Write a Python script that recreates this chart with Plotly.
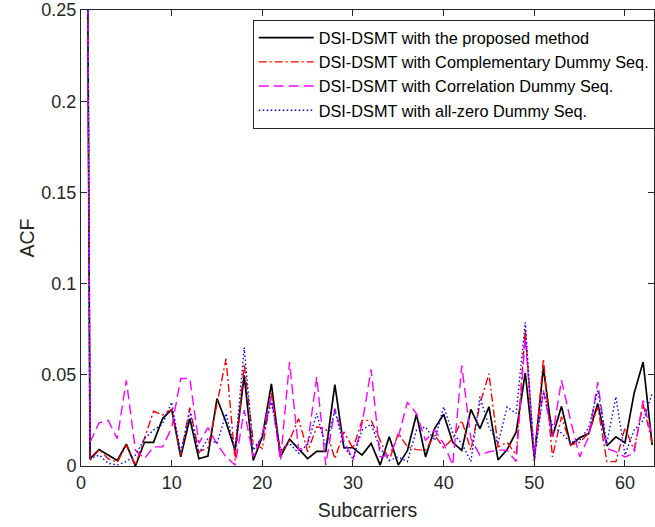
import plotly.graph_objects as go

# Subcarrier index 0..63
subcarriers = list(range(64))

acf_proposed = [
    1.0, 0.004, 0.009, 0.006, 0.003, 0.012, 0.0, 0.013, 0.013, 0.026,
    0.031, 0.005, 0.026, 0.004, 0.0055, 0.037, 0.024, 0.0087, 0.0497, 0.003,
    0.016, 0.045, 0.005, 0.0147, 0.0093, 0.004, 0.008, 0.008, 0.0446, 0.010,
    0.010, 0.006, 0.0124, 0.0005, 0.016, 0.0005, 0.0084, 0.0284, 0.005, 0.0205,
    0.0284, 0.013, 0.0085, 0.031, 0.0205, 0.0324, 0.0033, 0.009, 0.0187, 0.051,
    0.005, 0.054, 0.016, 0.0327, 0.0115, 0.0155, 0.0178, 0.0342, 0.011, 0.016,
    0.0127, 0.0397, 0.057, 0.0115,
]

acf_complementary = [
    1.0, 0.003, 0.009, 0.004, 0.002, 0.0115, 0.0005, 0.015, 0.030, 0.028,
    0.031, 0.006, 0.032, 0.0078, 0.010, 0.034, 0.0588, 0.003, 0.056, 0.013,
    0.0096, 0.040, 0.007, 0.014, 0.026, 0.0078, 0.0215, 0.0205, 0.004, 0.0187,
    0.0096, 0.025, 0.025, 0.014, 0.003, 0.018, 0.0105, 0.009, 0.0087, 0.017,
    0.010, 0.015, 0.025, 0.0087, 0.034, 0.0506, 0.0105, 0.013, 0.006, 0.075,
    0.0024, 0.0588, 0.005, 0.027, 0.0115, 0.013, 0.018, 0.0324, 0.0024, 0.0024,
    0.021, 0.0087, 0.034, 0.0124,
]

acf_correlation = [
    1.0, 0.013, 0.0237, 0.025, 0.015, 0.047, 0.0087, 0.004, 0.0105, 0.0105,
    0.021, 0.048, 0.048, 0.0124, 0.021, 0.012, 0.005, 0.0005, 0.0306, 0.005,
    0.018, 0.038, 0.003, 0.057, 0.0087, 0.012, 0.0488, 0.0005, 0.0315, 0.014,
    0.0033, 0.023, 0.053, 0.005, 0.006, 0.016, 0.035, 0.0288, 0.014, 0.0197,
    0.0124, 0.0005, 0.055, 0.015, 0.006, 0.0078, 0.0087, 0.0087, 0.0024, 0.0706,
    0.006, 0.0415, 0.016, 0.047, 0.025, 0.005, 0.016, 0.046, 0.0096, 0.0078,
    0.005, 0.007, 0.036, 0.016,
]

acf_all_zero = [
    1.0, 0.004, 0.006, 0.0015, 0.0005, 0.0024, 0.006, 0.015, 0.0197, 0.023,
    0.035, 0.007, 0.030, 0.007, 0.015, 0.0124, 0.0288, 0.0087, 0.065, 0.0087,
    0.016, 0.035, 0.0087, 0.0124, 0.007, 0.012, 0.0288, 0.0105, 0.0306, 0.0105,
    0.004, 0.0197, 0.023, 0.0096, 0.003, 0.005, 0.0024, 0.0197, 0.0215, 0.014,
    0.0324, 0.018, 0.0124, 0.0024, 0.038, 0.0215, 0.0124, 0.0324, 0.0288, 0.0788,
    0.0033, 0.0406, 0.022, 0.018, 0.013, 0.014, 0.021, 0.0415, 0.0124, 0.038,
    0.006, 0.0197, 0.025, 0.0397,
]

series = [
    ("DSI-DSMT with the proposed method", acf_proposed, "#000000", "solid", 1.7),
    ("DSI-DSMT with Complementary Dummy Seq.", acf_complementary, "#FF0000", "8px,3px,2px,3px", 1.4),
    ("DSI-DSMT with Correlation Dummy Seq.", acf_correlation, "#FF00FF", "10px,5px", 1.4),
    ("DSI-DSMT with all-zero Dummy Seq.", acf_all_zero, "#0000FF", "1.5px,2.5px", 1.4),
]

fig = go.Figure()
for name, vals, color, dash, width in series:
    fig.add_trace(go.Scatter(
        x=subcarriers, y=vals, mode="lines", name=name,
        line=dict(color=color, dash=dash, width=width),
    ))

axis_color = "#262626"
font_family = "Liberation Sans, Arial, sans-serif"

fig.update_layout(
    width=655, height=527,
    margin=dict(l=81, r=0, t=8, b=61),
    paper_bgcolor="white", plot_bgcolor="white",
    font=dict(family=font_family, size=18, color=axis_color),
    showlegend=True,
    legend=dict(
        x=0.2997, y=0.979, xanchor="left", yanchor="top",
        bgcolor="white", bordercolor=axis_color, borderwidth=1,
        font=dict(size=16.3, color="#000000"),
        tracegroupgap=0, itemwidth=55,
    ),
)

fig.update_xaxes(
    range=[0, 63.2], tickvals=[0, 10, 20, 30, 40, 50, 60],
    ticks="inside", ticklen=6, tickcolor=axis_color,
    showline=True, linecolor=axis_color, linewidth=1, mirror="ticks",
    showgrid=False, zeroline=False, ticklabeloverflow="allow",
    tickfont=dict(size=18),
    title=dict(text="Subcarriers", font=dict(size=19.5, color=axis_color), standoff=11),
)
fig.update_yaxes(
    range=[0, 0.25], tickvals=[0, 0.05, 0.1, 0.15, 0.2, 0.25],
    ticktext=["0", "0.05", "0.1", "0.15", "0.2", "0.25"],
    ticks="inside", ticklen=6, tickcolor=axis_color,
    showline=True, linecolor=axis_color, linewidth=1, mirror="ticks",
    showgrid=False, zeroline=False, ticklabeloverflow="allow",
    tickfont=dict(size=18),
    title=dict(text="ACF", font=dict(size=19.5, color=axis_color), standoff=1),
)

fig.write_html("out.html")
